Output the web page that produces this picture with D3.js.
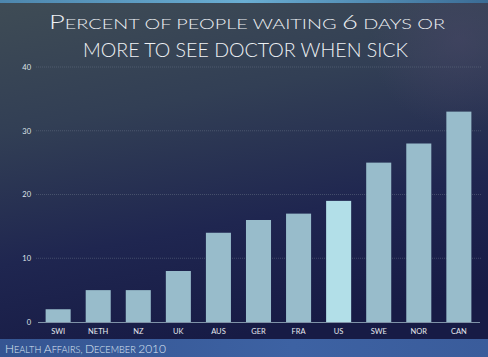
<!DOCTYPE html>
<html><head><meta charset="utf-8">
<script src="https://cdn.jsdelivr.net/npm/d3@7"></script>
<style>html,body{margin:0;padding:0;background:#1b2145;overflow:hidden}</style>
</head><body>
<script>
const categories = ["SWI","NETH","NZ","UK","AUS","GER","FRA","US","SWE","NOR","CAN"];
const values = [2,5,5,8,14,16,17,19,25,28,33];
const yTicks = [0,10,20,30,40];
// title pieces: [text, big?]
const titleLine1 = [["P",1],["ERCENT OF PEOPLE WAITING ",0],["6",1],[" DAYS OR",0]];
const titleLine2 = [["MORE TO SEE DOCTOR WHEN SICK",1]];
const sourceParts = [["H",1],["EALTH ",0],["A",1],["FFAIRS, ",0],["D",1],["ECEMBER ",0],["2010",1]];

const W = 488, H = 357;
const svg = d3.select("body").append("svg").attr("width", W).attr("height", H);
const defs = svg.append("defs");
const g1 = defs.append("linearGradient").attr("id","bg").attr("x1",0).attr("y1",0).attr("x2",0.25).attr("y2",1);
g1.append("stop").attr("offset","0%").attr("stop-color","#3f4c55");
g1.append("stop").attr("offset","35%").attr("stop-color","#323f55");
g1.append("stop").attr("offset","70%").attr("stop-color","#1f2650");
g1.append("stop").attr("offset","100%").attr("stop-color","#171b45");
svg.append("rect").attr("width",W).attr("height",H).attr("fill","url(#bg)");
const rg = defs.append("radialGradient").attr("id","glow").attr("cx",0.5).attr("cy",0.5).attr("r",0.5);
rg.append("stop").attr("offset","0%").attr("stop-color","#4a4668").attr("stop-opacity",0.5);
rg.append("stop").attr("offset","100%").attr("stop-color","#4a4668").attr("stop-opacity",0);
svg.append("circle").attr("cx",460).attr("cy",40).attr("r",90).attr("fill","url(#glow)");
const tg = defs.append("linearGradient").attr("id","top").attr("x1",0).attr("x2",1);
tg.append("stop").attr("offset","0%").attr("stop-color","#4d86ad");
tg.append("stop").attr("offset","50%").attr("stop-color","#6aaed3");
tg.append("stop").attr("offset","100%").attr("stop-color","#3b6c95");
svg.append("rect").attr("width",W).attr("height",3).attr("fill","url(#top)");
const fg = defs.append("linearGradient").attr("id","foot").attr("x1",0).attr("x2",1);
fg.append("stop").attr("offset","0%").attr("stop-color","#355592");
fg.append("stop").attr("offset","60%").attr("stop-color","#3d62a3");
fg.append("stop").attr("offset","100%").attr("stop-color","#3a5c9b");
svg.append("rect").attr("y",339).attr("width",W).attr("height",H-339).attr("fill","url(#foot)");

const x = d3.scaleBand().domain(categories).range([38,479]).paddingInner(0.375).paddingOuter(0.19);
const y = d3.scaleLinear().domain([0,40]).range([322,67]);

svg.append("g").selectAll("line").data(yTicks.filter(d=>d>0)).join("line")
  .attr("x1",36).attr("x2",482).attr("y1",d=>y(d)).attr("y2",d=>y(d))
  .attr("stroke","#6f7a8c").attr("stroke-width",1).attr("stroke-dasharray","1,1").attr("opacity",0.45);

const yAxis = d3.axisLeft(y).tickValues(yTicks).tickSize(0).tickPadding(0);
const ya = svg.append("g").attr("transform","translate(31,0)").call(yAxis);
ya.select(".domain").remove();
ya.selectAll("text").attr("fill","#dfe4ea").attr("font-family","Lato, 'Open Sans', sans-serif").attr("font-size",7.5);

svg.append("line").attr("x1",38).attr("x2",480).attr("y1",y(0)+0.5).attr("y2",y(0)+0.5).attr("stroke","#7f93a8").attr("stroke-width",1);

svg.append("g").selectAll("rect").data(values).join("rect")
  .attr("x",(d,i)=>x(categories[i])).attr("width",x.bandwidth())
  .attr("y",d=>y(d)).attr("height",d=>y(0)-y(d))
  .attr("fill",(d,i)=>categories[i]==="US" ? "#b2dfe8" : "#98bccb");

const xAxis = d3.axisBottom(x).tickSize(0).tickPadding(6);
const xa = svg.append("g").attr("transform","translate(0,323)").call(xAxis);
xa.select(".domain").remove();
xa.selectAll("text").attr("fill","#e6eaef").attr("font-family","Lato, 'Open Sans', sans-serif").attr("font-size",7.5);

function partText(parts, xPos, yPos, big, small, len, anchor, color){
  const t = svg.append("text").attr("x",xPos).attr("y",yPos).attr("text-anchor",anchor)
    .attr("fill",color).attr("font-family","Lato, 'Open Sans', sans-serif").attr("font-weight",300)
    .attr("textLength",len).attr("lengthAdjust","spacingAndGlyphs");
  t.selectAll("tspan").data(parts).join("tspan").attr("font-size",d=>d[1]?big:small).text(d=>d[0]);
  return t;
}
partText(titleLine1, 247, 29, 20, 14.5, 396, "middle", "#eef1f4");
partText(titleLine2, 245.5, 56.5, 19.5, 14, 325, "middle", "#eef1f4");
partText(sourceParts, 5, 353, 12, 9.2, 161, "start", "#dfe6f2");
</script>
</body></html>
